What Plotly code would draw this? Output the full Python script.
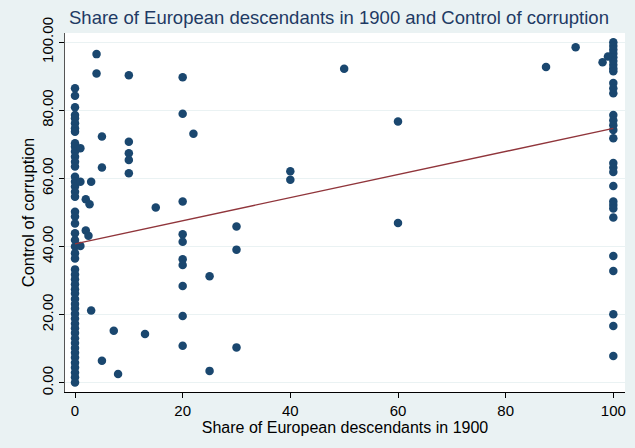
import plotly.graph_objects as go

# x = 0 column (countries with no European descendants)
y_at_zero = [86.5, 84.3, 80.9, 78.6, 77.7, 76.2, 74.7, 73.7, 70.3, 69.3, 67.9, 66.4,
             64.9, 63.5, 60.5, 59.0, 57.6, 56.1, 54.6, 50.2, 48.8, 46.8, 43.9, 41.9,
             40.0, 38.0, 36.5, 33.3, 31.8, 30.4, 28.9, 27.5, 26.2, 24.6, 23.1, 21.8,
             20.3, 18.9, 17.4, 16.0, 14.6, 13.1, 11.7, 10.2, 8.8, 7.4, 5.9, 4.5,
             3.0, 1.6, 0.1]

# x = 100 column
y_at_hundred = [100.0, 98.9, 97.8, 96.7, 95.6, 94.5, 93.4, 92.3, 91.5, 88.0, 86.5,
                85.0, 78.6, 77.1, 75.6, 74.2, 71.8, 64.5, 63.2, 61.9, 57.8, 53.2,
                52.2, 51.2, 48.5, 37.2, 32.8, 20.1, 16.7, 7.9]

# remaining countries
other_x = [4, 4, 10, 5, 10, 1, 10, 10, 5, 10, 1, 3, 2, 2.7, 15, 2, 2.5, 1, 3, 7.2,
           13, 5, 8,
           20, 20, 20, 20, 20, 20, 20, 20, 20, 20,
           22, 25, 25, 30, 30, 30, 40, 40, 50, 60, 60, 87.5, 93, 98, 99]
other_y = [96.5, 90.8, 90.3, 72.3, 70.8, 68.9, 67.4, 65.4, 63.2, 61.5, 59.0, 59.0,
           53.9, 52.4, 51.5, 44.7, 43.2, 40.2, 21.2, 15.3, 14.3, 6.5, 2.6,
           89.7, 79.0, 53.2, 43.6, 41.4, 36.3, 34.6, 28.4, 19.6, 10.9,
           73.1, 31.3, 3.5, 45.9, 39.1, 10.4, 62.1, 59.6, 92.2, 76.7, 46.9,
           92.7, 98.5, 94.1, 95.8]

# fitted line endpoints
fit_x = [0, 100]
fit_y = [40.8, 74.7]

x_ticks = [0, 20, 40, 60, 80, 100]
y_ticks = [0, 20, 40, 60, 80, 100]
y_tick_labels = ["0.00", "20.00", "40.00", "60.00", "80.00", "100.00"]

all_x = [0] * len(y_at_zero) + [100] * len(y_at_hundred) + other_x
all_y = y_at_zero + y_at_hundred + other_y

MARKER = "#1a476f"
LINE = "#90353b"
BG = "#eaf2f3"

fig = go.Figure()
fig.add_trace(go.Scatter(x=all_x, y=all_y, mode="markers",
                         marker=dict(color=MARKER, size=8.5, line=dict(width=0)),
                         showlegend=False, hoverinfo="x+y"))
fig.add_trace(go.Scatter(x=fit_x, y=fit_y, mode="lines",
                         line=dict(color=LINE, width=1.3),
                         showlegend=False))

fig.update_layout(
    width=635, height=448,
    paper_bgcolor=BG, plot_bgcolor="white",
    margin=dict(l=65, r=10, t=33, b=56, autoexpand=False),
    font=dict(family="Liberation Sans, Arial, sans-serif", color="black", size=15),
    title=dict(text="Share of European descendants in 1900 and Control of corruption",
               x=69 / 635, xref="container", xanchor="left",
               y=1 - 18 / 448, yref="container", yanchor="middle",
               automargin=False,
               font=dict(size=18.5, color="#1e3a64")),
    xaxis=dict(range=[-1.86, 102.17], tickvals=x_ticks, ticktext=[str(v) for v in x_ticks],
               showgrid=False, zeroline=False, showline=True, linecolor="black",
               linewidth=1, ticks="outside", ticklen=5, tickcolor="black",
               tickfont=dict(size=15), automargin=False,
               title=dict(text="Share of European descendants in 1900",
                          font=dict(size=16), standoff=0)),
    yaxis=dict(range=[-2.7, 102.7], tickvals=y_ticks, ticktext=y_tick_labels,
               tickangle=-90, showgrid=True, gridcolor=BG, gridwidth=1.2,
               zeroline=False, showline=True, linecolor="#555555", linewidth=1,
               ticks="outside", ticklen=5, tickcolor="black",
               tickfont=dict(size=15), automargin=False,
               title=dict(text="Control of corruption", font=dict(size=16.5), standoff=0)),
)

fig.write_html("out.html", config={"displayModeBar": False},
               post_script="document.body.style.margin='0';document.body.style.padding='0';")
